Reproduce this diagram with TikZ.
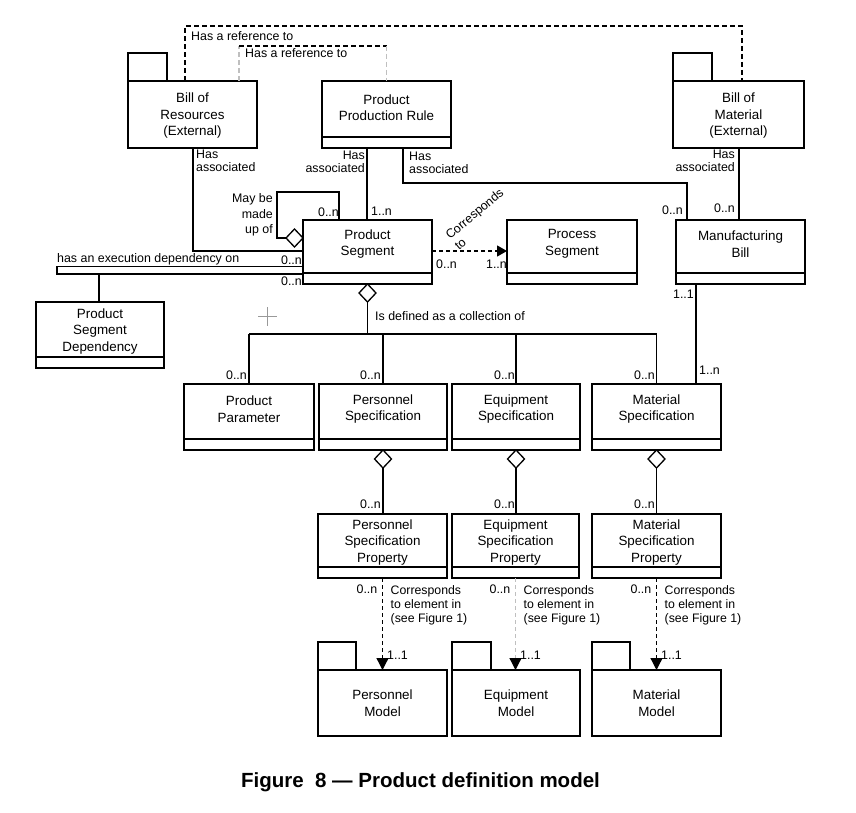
\documentclass[tikz,border=0pt]{standalone}
\usepackage{fontspec}
\setmainfont{Liberation Sans}
\usetikzlibrary{arrows.meta,shapes.geometric}
\tikzset{
  box/.style={draw, line width=1.6pt, inner sep=0pt, outer sep=0pt, anchor=north west, fill=white},
  txt/.style={align=center, inner sep=0pt, yshift=-1.5pt, font=\fontsize{13.4}{16.5}\selectfont},
  lab/.style={inner sep=0pt, font=\fontsize{12.4}{13.5}\selectfont},
  thinline/.style={line width=1.1pt},
  thickline/.style={line width=1.9pt},
  agg/.style={diamond, draw, fill=white, line width=1.3pt, minimum width=17pt, minimum height=18pt, inner sep=0pt, outer sep=0pt},
  dep/.style={line width=1.3pt, dash pattern=on 4pt off 3pt, -{Triangle[length=12pt,width=12pt,color=black]}},
  refd/.style={line width=1.4pt, dash pattern=on 5pt off 3pt},
}
\begin{document}
\begin{tikzpicture}[x=1pt,y=-1pt]
\fill[white] (0,0) rectangle (856,813);
\useasboundingbox (0,0) rectangle (856,813);

% ---------- boxes ----------
% Bill of Resources (package)
\node[box, minimum width=39pt, minimum height=28pt] (bortab) at (128,53) {};
\node[box, minimum width=129pt, minimum height=67pt] (bor) at (128,81) {};
\node[txt] (bort) at (192.5,114.5) {Bill of\\Resources\\(External)};
% Product Production Rule
\node[box, minimum width=129pt, minimum height=56pt] (ppr) at (322,81) {};
\node[box, minimum width=129pt, minimum height=11pt] (pprc) at (322,137) {};
\node[txt] (pprt) at (386.5,106) {Product\\Production Rule};
% Bill of Material (package)
\node[box, minimum width=39pt, minimum height=28pt] (bomtab) at (673,53) {};
\node[box, minimum width=131pt, minimum height=67pt] (bom) at (673,81) {};
\node[txt] (bomt) at (738.5,114.5) {Bill of\\Material\\(External)};
% Product Segment
\node[box, minimum width=129pt, minimum height=53pt] (ps) at (303,220) {};
\node[box, minimum width=129pt, minimum height=11pt] (psc) at (303,273) {};
\node[txt] (pst) at (367.5,242.5) {Product\\Segment};
% Process Segment
\node[box, minimum width=130pt, minimum height=53pt] (pseg) at (507,220) {};
\node[box, minimum width=130pt, minimum height=11pt] (psegc) at (507,273) {};
\node[txt] (psegt) at (572,242.5) {Process\\Segment};
% Manufacturing Bill
\node[box, minimum width=129pt, minimum height=53pt] (mb) at (676,220) {};
\node[box, minimum width=129pt, minimum height=11pt] (mbc) at (676,273) {};
\node[txt] (mbt) at (740.5,242.5) {Manufacturing\\Bill};
% Product Segment Dependency
\node[box, minimum width=128pt, minimum height=55pt] (psd) at (36,302) {};
\node[box, minimum width=128pt, minimum height=11pt] (psdc) at (36,357) {};
\node[txt] (psdt) at (100,330) {Product\\Segment\\Dependency};
% Specifications
\node[box, minimum width=130pt, minimum height=55pt] (pp) at (184,384) {};
\node[box, minimum width=130pt, minimum height=11pt] (ppc) at (184,439) {};
\node[txt] (ppt) at (249,407.5) {Product\\Parameter};
\node[box, minimum width=128pt, minimum height=55pt] (perss) at (319,384) {};
\node[box, minimum width=128pt, minimum height=11pt] (perssc) at (319,439) {};
\node[txt] (ersst) at (383,407.5) {Personnel\\Specification};
\node[box, minimum width=128pt, minimum height=55pt] (equs) at (452,384) {};
\node[box, minimum width=128pt, minimum height=11pt] (equsc) at (452,439) {};
\node[txt] (equst) at (516,407.5) {Equipment\\Specification};
\node[box, minimum width=129pt, minimum height=55pt] (mats) at (592,384) {};
\node[box, minimum width=129pt, minimum height=11pt] (matsc) at (592,439) {};
\node[txt] (matst) at (656.5,407.5) {Material\\Specification};
% Properties
\node[box, minimum width=129pt, minimum height=53pt] (persp) at (318,514) {};
\node[box, minimum width=129pt, minimum height=11pt] (perspc) at (318,567) {};
\node[txt] (perspt) at (382.5,541) {Personnel\\Specification\\Property};
\node[box, minimum width=127pt, minimum height=53pt] (equp) at (452,514) {};
\node[box, minimum width=127pt, minimum height=11pt] (equpc) at (452,567) {};
\node[txt] (equpt) at (515.5,541) {Equipment\\Specification\\Property};
\node[box, minimum width=129pt, minimum height=53pt] (matp) at (592,514) {};
\node[box, minimum width=129pt, minimum height=11pt] (matpc) at (592,567) {};
\node[txt] (matpt) at (656.5,541) {Material\\Specification\\Property};
% Models (packages)
\node[box, minimum width=38pt, minimum height=28pt] (persmtab) at (318,642) {};
\node[box, minimum width=129pt, minimum height=66pt] (persm) at (318,670) {};
\node[txt] (persmt) at (382.5,701.5) {Personnel\\Model};
\node[box, minimum width=39pt, minimum height=28pt] (equmtab) at (452,642) {};
\node[box, minimum width=128pt, minimum height=66pt] (equm) at (452,670) {};
\node[txt] (equmt) at (516,701.5) {Equipment\\Model};
\node[box, minimum width=38pt, minimum height=28pt] (matmtab) at (592,642) {};
\node[box, minimum width=129pt, minimum height=66pt] (matm) at (592,670) {};
\node[txt] (matmt) at (656.5,701.5) {Material\\Model};

% ---------- reference (dashed) ----------
\draw[refd] ([xshift=57pt]bor.north west) -- ++(0,-55) -| ([xshift=69pt]bom.north west);
\node[lab, anchor=west] (ref1) at (191,36) {Has a reference to};
\draw[refd, draw=black!25] ([xshift=111pt]bor.north west) -- ++(0,-35) coordinate (ra);
\draw[refd] (ra) -- (ra -| ppr.north) coordinate (rb);
\draw[refd, draw=black!25] (rb) -- (ppr.north);
\node[lab, anchor=west] (ref2) at (245,53.5) {Has a reference to};

% ---------- has associated ----------
\draw[thinline] ([xshift=65pt]bor.south west) |- ([yshift=-4.5pt]ps.west);
\node[lab, align=left, anchor=west] (ha1) at (196,161) {Has\\associated};
\draw[thickline] ([xshift=45pt]pprc.south west) -- ([xshift=64pt]ps.north west);
\node[lab, align=right, anchor=east] (ha2) at (365,162) {Has\\associated};
\node[lab, anchor=west] (m1) at (371,211) {1..n};
\draw[thinline] ([xshift=81pt]pprc.south west) -- ++(0,35) -| ([xshift=11pt]mb.north west);
\node[lab, align=left, anchor=west] (ha3) at (409,163) {Has\\associated};
\node[lab, anchor=east] (m2) at (683,210) {0..n};
\draw[thinline] ([xshift=66pt]bom.south west) -- ([xshift=63pt]mb.north west);
\node[lab, align=right, anchor=east] (ha4) at (735,161) {Has\\associated};
\node[lab, anchor=east] (m3) at (735,208) {0..n};
\draw[thickline] ([xshift=20pt]mbc.south west) -- ([xshift=104pt]mats.north west);
\node[lab, anchor=east] (m4) at (694,294) {1..1};
\node[lab, anchor=west] (m5) at (699,370) {1..n};

% ---------- self association ----------
\node[agg] (d0) at (294.5,238) {};
\draw[line width=1.4pt] ([xshift=36pt]ps.north west) -- ++(0,-28) -- ++(-62,0) |- (d0.west);
\node[lab, align=right, anchor=east, font=\fontsize{12.4}{15.5}\selectfont] (mbu) at (273,215) {May be\\made\\up of};
\node[lab, anchor=east] (m6) at (339,212) {0..n};

% ---------- execution dependency ----------
\draw[line width=1.3pt] ([yshift=-20pt]ps.west) -- ++(-246,0) -- ++(0,7.6) -- ++(246,0);
\draw[thinline] ([xshift=63pt]psd.north west) -- ++(0,-28);
\node[lab, anchor=west] (exd) at (57,259) {has an execution dependency on};
\node[lab, anchor=east] (m7) at (302,260) {0..n};
\node[lab, anchor=east] (m8) at (302,281) {0..n};

% ---------- corresponds to ----------
\draw[dep, -{Triangle[length=10pt,width=11pt]}] ([yshift=-4.5pt]ps.east) -- ([yshift=-4.5pt]pseg.west);
\node[lab, rotate=40, align=left, anchor=north west, font=\fontsize{12.4}{14}\selectfont] (cor) at (444,233) {Corresponds\\to};
\node[lab, anchor=west] (m9) at (436,264) {0..n};
\node[lab, anchor=east] (m10) at (507,264) {1..n};

% ---------- aggregation ----------
\node[agg, anchor=north] (d1) at (psc.south) {};
\draw[thickline] (d1.south) -- ++(0,32) coordinate (j);
\draw[thickline] (j -| pp.north) -- (j -| mats.north);
\draw[thinline] (j -| pp.north) -- (pp.north);
\draw[thickline] (j -| perss.north) -- (perss.north);
\draw[thinline] (j -| equs.north) -- (equs.north);
\draw[thinline] (j -| mats.north) -- (mats.north);
\node[lab, anchor=west] (coll) at (375,316) {Is defined as a collection of};
\node[lab, anchor=east] (m11) at (247,375) {0..n};
\node[lab, anchor=east] (m12) at (381,375) {0..n};
\node[lab, anchor=east] (m13) at (515,375) {0..n};
\node[lab, anchor=east] (m14) at (655,375) {0..n};

% ---------- spec -> property ----------
\node[agg, anchor=north] (d2) at (perssc.south) {};
\node[agg, anchor=north] (d3) at (equsc.south) {};
\node[agg, anchor=north] (d4) at (matsc.south) {};
\draw[thickline] (d2.south) -- (d2.south |- persp.north);
\draw[thinline] (d3.south) -- (d3.south |- equp.north);
\draw[thinline] (d4.south) -- (d4.south |- matp.north);
\node[lab, anchor=east] (m15) at (381,504) {0..n};
\node[lab, anchor=east] (m16) at (515,504) {0..n};
\node[lab, anchor=east] (m17) at (655,504) {0..n};

% ---------- property -> model ----------
\draw[dep] (perspc.south) -- (perspc.south |- persm.north);
\draw[dep, draw=black!25] (equpc.south) -- (equpc.south |- equm.north);
\draw[dep] (matpc.south) -- (matpc.south |- matm.north);
\foreach \n/\x in {a/382.5, b/515.5, c/656.5}{
  \node[lab, anchor=east] (z\n) at (\x-5,589) {0..n};
  \node[lab, align=left, anchor=west, font=\fontsize{12.3}{14}\selectfont] (c\n) at (\x+8,605) {Corresponds\\to element in\\(see Figure 1)};
  \node[lab, anchor=west] (o\n) at (\x+4.5,655) {1..1};
}

% cursor mark
\draw[black!40, line width=0.6pt] (258,316) -- (277,316) (267.5,307) -- (267.5,326);

% caption
\node[inner sep=0pt, anchor=base, font=\bfseries\fontsize{20.5}{24}\selectfont] (cap) at (420.5,787) {Figure\ \ 8 — Product definition model};
\end{tikzpicture}
\end{document}
